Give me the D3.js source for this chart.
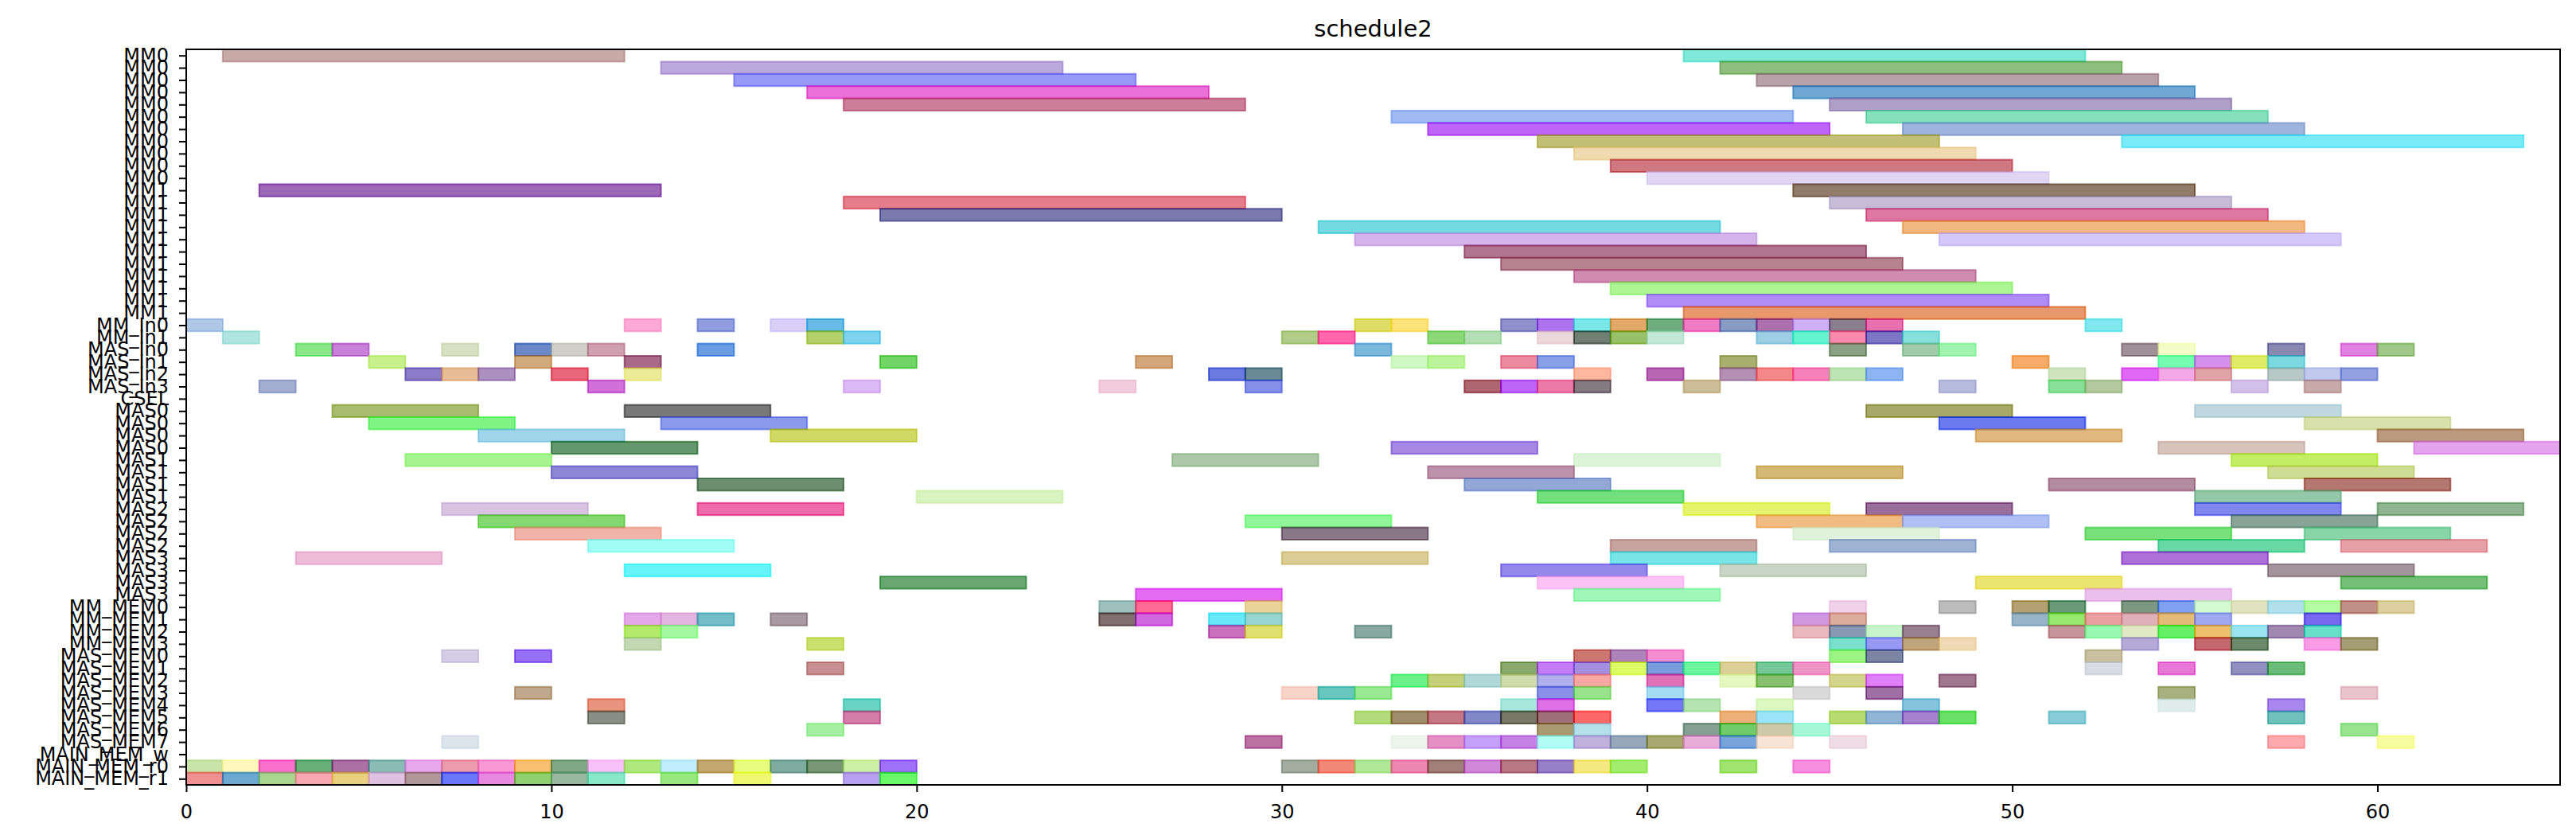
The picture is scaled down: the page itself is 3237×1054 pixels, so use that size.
<!DOCTYPE html>
<html>
<head>
<meta charset="utf-8">
<script src="https://cdn.jsdelivr.net/npm/d3@7"></script>
<style>
  html, body { margin: 0; padding: 0; background: #fff; }
  svg { display: block; font-family: "DejaVu Sans", sans-serif; }
</style>
</head>
<body>
<script>
// Row labels, top to bottom
const rowLabels = [
  "MM0", "MM0", "MM0", "MM0", "MM0", "MM0", "MM0", "MM0", "MM0", "MM0", "MM0",
  "MM1", "MM1", "MM1", "MM1", "MM1", "MM1", "MM1", "MM1", "MM1", "MM1", "MM1",
  "MM_In0", "MM_In1", "MAS_In0", "MAS_In1", "MAS_In2", "MAS_In3", "CSEL",
  "MAS0", "MAS0", "MAS0", "MAS0", "MAS1", "MAS1", "MAS1", "MAS1",
  "MAS2", "MAS2", "MAS2", "MAS2", "MAS3", "MAS3", "MAS3", "MAS3",
  "MM_MEM0", "MM_MEM1", "MM_MEM2", "MM_MEM3",
  "MAS_MEM0", "MAS_MEM1", "MAS_MEM2", "MAS_MEM3", "MAS_MEM4", "MAS_MEM5", "MAS_MEM6", "MAS_MEM7",
  "MAIN_MEM_w", "MAIN_MEM_r0", "MAIN_MEM_r1"
];

const xTicks = [0, 10, 20, 30, 40, 50, 60];

// [row, start, end, colour as seen]
const mmBars = [
  [0, 1, 12, "#c8aaa6"], [0, 41, 52, "#80e8d8"],
  [1, 13, 24, "#bca8dc"], [1, 42, 53, "#8fbf7f"],
  [2, 15, 26, "#9898f8"], [2, 43, 54, "#b8a2aa"],
  [3, 17, 28, "#ea70d8"], [3, 44, 55, "#70a8d4"],
  [4, 18, 29, "#cc7f98"], [4, 45, 56, "#b0a0c8"],
  [5, 33, 44, "#a0baf6"], [5, 46, 57, "#86e0bc"],
  [6, 34, 45, "#bf66f8"], [6, 47, 58, "#9fb4dc"],
  [7, 37, 48, "#c2c076"], [7, 53, 64, "#7aeaf8"],
  [8, 38, 49, "#f0dab0"],
  [9, 39, 50, "#d07880"],
  [10, 40, 51, "#e0d6f4"],
  [11, 2, 13, "#9d68b8"], [11, 44, 55, "#907c68"],
  [12, 18, 29, "#e57e8a"], [12, 45, 56, "#c6bcd8"],
  [13, 19, 30, "#7a7aae"], [13, 46, 57, "#de78a2"],
  [14, 31, 42, "#72dae0"], [14, 47, 58, "#f2b680"],
  [15, 32, 43, "#d4b4ea"], [15, 48, 59, "#d4c8f8"],
  [16, 35, 46, "#b0748e"],
  [17, 36, 47, "#b68290"],
  [18, 38, 49, "#d08cb0"],
  [19, 39, 50, "#acf494"],
  [20, 40, 51, "#b08cf8"],
  [21, 41, 52, "#e8986c"]
];

const inBars = [
  [22, 0, 1, "#b0c8e8"], [22, 12, 13, "#ffaad6"], [22, 14, 15, "#909ee0"], [22, 16, 17, "#d8d0f8"],
  [22, 17, 18, "#62bce4"], [22, 32, 33, "#dede66"], [22, 33, 34, "#fde27a"], [22, 36, 37, "#9090cc"],
  [22, 37, 38, "#ae72ee"], [22, 38, 39, "#7ae8e8"], [22, 39, 40, "#e2a868"], [22, 40, 41, "#6eae7e"],
  [22, 41, 42, "#f07cc4"], [22, 42, 43, "#869cc4"], [22, 43, 44, "#ac70ac"], [22, 44, 45, "#d0b0f4"],
  [22, 45, 46, "#8a7e8e"], [22, 46, 47, "#e870ae"], [22, 52, 53, "#80e8ee"],
  [23, 1, 2, "#b0e4e0"], [23, 17, 18, "#b4d06a"], [23, 18, 19, "#7ed2ee"], [23, 30, 31, "#b0cc88"],
  [23, 31, 32, "#ff68ae"], [23, 34, 35, "#8cd87a"], [23, 35, 36, "#b4deb4"], [23, 37, 38, "#ecd8da"],
  [23, 38, 39, "#707e74"], [23, 39, 40, "#98c068"], [23, 40, 41, "#c4e8d8"], [23, 43, 44, "#9ccee4"],
  [23, 44, 45, "#60f4d0"], [23, 45, 46, "#fc8aae"], [23, 46, 47, "#7c76c4"], [23, 47, 48, "#88e0dc"],
  [24, 3, 4, "#88e888"], [24, 4, 5, "#c880d8"], [24, 7, 8, "#d8e0c4"], [24, 9, 10, "#6a88c8"],
  [24, 10, 11, "#d0d0c8"], [24, 11, 12, "#d0a0b0"], [24, 14, 15, "#6a9ce4"], [24, 32, 33, "#7cb8de"],
  [24, 45, 46, "#8ca084"], [24, 47, 48, "#a0ccac"], [24, 48, 49, "#a0f4b0"], [24, 53, 54, "#a0909a"],
  [24, 54, 55, "#f4fcc8"], [24, 57, 58, "#8888b0"], [24, 59, 60, "#e080e0"], [24, 60, 61, "#a0c888"],
  [25, 5, 6, "#c8f08c"], [25, 9, 10, "#d0aa7c"], [25, 12, 13, "#a86a88"], [25, 19, 20, "#70d466"],
  [25, 26, 27, "#d4a67c"], [25, 33, 34, "#d0f8c4"], [25, 34, 35, "#bcf49c"], [25, 36, 37, "#ec8aa0"],
  [25, 37, 38, "#88a0e8"], [25, 42, 43, "#a8b070"], [25, 50, 51, "#f6ac68"], [25, 54, 55, "#74fcb0"],
  [25, 55, 56, "#d490ec"], [25, 56, 57, "#e0ec64"], [25, 57, 58, "#7cd8e0"],
  [26, 6, 7, "#8a7cc8"], [26, 7, 8, "#e8bc94"], [26, 8, 9, "#ac90c0"], [26, 10, 11, "#e8687a"],
  [26, 12, 13, "#ecec98"], [26, 28, 29, "#6a7ae0"], [26, 29, 30, "#6a8a96"], [26, 38, 39, "#ffb8a0"],
  [26, 40, 41, "#b866b4"], [26, 42, 43, "#b490b4"], [26, 43, 44, "#f48888"], [26, 44, 45, "#f880b8"],
  [26, 45, 46, "#bce4b4"], [26, 46, 47, "#8eb4f4"], [26, 51, 52, "#d0e4c0"], [26, 53, 54, "#e068f4"],
  [26, 54, 55, "#f4a8e8"], [26, 55, 56, "#e0a4a8"], [26, 57, 58, "#b8c8c4"], [26, 58, 59, "#c0c8ec"],
  [26, 59, 60, "#90a0e0"],
  [27, 2, 3, "#a4aed0"], [27, 11, 12, "#d070d8"], [27, 18, 19, "#dcb8f4"], [27, 25, 26, "#f0ccdc"],
  [27, 29, 30, "#8490e8"], [27, 35, 36, "#ae6470"], [27, 36, 37, "#bc66f8"], [27, 37, 38, "#ec7aa6"],
  [27, 38, 39, "#847a82"], [27, 41, 42, "#ccbe98"], [27, 48, 49, "#b8bcdc"], [27, 51, 52, "#88e098"],
  [27, 52, 53, "#b4c8a0"], [27, 56, 57, "#d2c0e8"], [27, 58, 59, "#c8aaaa"]
];

const masBars = [
  [29, 4, 8, "#a8bc70"], [29, 12, 16, "#787878"], [29, 46, 50, "#a8a868"], [29, 55, 59, "#c0d8e0"],
  [30, 5, 9, "#80f484"], [30, 13, 17, "#8c9aec"], [30, 48, 52, "#6a7af0"], [30, 58, 62, "#d8e0ac"],
  [31, 8, 12, "#a0d4ea"], [31, 16, 20, "#d0d864"], [31, 49, 53, "#e0b880"], [31, 60, 64, "#bc9a80"],
  [32, 10, 14, "#66986e"], [32, 33, 37, "#a688e4"], [32, 54, 58, "#d6c4bc"], [32, 61, 65, "#e4a4ee"],
  [33, 6, 10, "#a8f490"], [33, 27, 31, "#acc8a8"], [33, 38, 42, "#def4d8"], [33, 56, 60, "#c4ee64"],
  [34, 10, 14, "#8c88d6"], [34, 34, 38, "#be92aa"], [34, 43, 47, "#d4b874"], [34, 57, 61, "#cedc94"],
  [35, 14, 18, "#6e8e70"], [35, 35, 39, "#94a8d8"], [35, 51, 55, "#b48ca0"], [35, 58, 62, "#b47870"],
  [36, 20, 24, "#daf4c0"], [36, 37, 41, "#72e07c"], [36, 55, 59, "#94c8a8"],
  [37, 7, 11, "#d8c4e2"], [37, 14, 18, "#ee6aa8"], [37, 41, 45, "#e4f46c"], [37, 46, 50, "#9a6e9a"],
  [37, 55, 59, "#8088f0"], [37, 60, 64, "#8eb490"],
  [38, 8, 12, "#84d870"], [38, 29, 33, "#90f898"], [38, 43, 47, "#f0bc84"], [38, 47, 51, "#b0c0f4"],
  [38, 56, 60, "#88a498"],
  [39, 9, 13, "#f2b4a8"], [39, 30, 34, "#887888"], [39, 44, 48, "#e0f2dc"], [39, 52, 56, "#7ae07a"],
  [39, 58, 62, "#88d6a8"],
  [40, 11, 15, "#a0fcf4"], [40, 39, 43, "#c8a4a0"], [40, 45, 49, "#a0b2d4"], [40, 54, 58, "#68d8a4"],
  [40, 59, 63, "#e8a0a8"],
  [41, 3, 7, "#ecbcd8"], [41, 30, 34, "#dacc94"], [41, 39, 43, "#78e6e8"], [41, 53, 57, "#ac70d8"],
  [42, 12, 16, "#60f4f8"], [42, 36, 40, "#9488ec"], [42, 42, 46, "#c8d4c4"], [42, 57, 61, "#a4949c"],
  [43, 19, 23, "#68a870"], [43, 37, 41, "#fcc4f4"], [43, 49, 53, "#ece670"], [43, 59, 63, "#74c078"],
  [44, 26, 30, "#e46cf4"], [44, 38, 42, "#a0f8b8"], [44, 52, 56, "#ecc0ec"]
];

const memBars = [
  [45, 25, 26, "#a0c0bc"], [45, 26, 27, "#ff6a94"], [45, 29, 30, "#e8d498"], [45, 45, 46, "#f0d0e8"],
  [45, 48, 49, "#bcbcbc"], [45, 50, 51, "#b4a070"], [45, 51, 52, "#6a9a78"], [45, 53, 54, "#7c9880"],
  [45, 54, 55, "#80a0f0"], [45, 55, 56, "#d4f8d0"], [45, 56, 57, "#e0e2c0"], [45, 57, 58, "#b0e0ec"],
  [45, 58, 59, "#b4fca0"], [45, 59, 60, "#c09088"], [45, 60, 61, "#dcd0a0"],
  [46, 12, 13, "#e4a8e8"], [46, 13, 14, "#e4b4e0"], [46, 14, 15, "#74bcc8"], [46, 16, 17, "#a89aa0"],
  [46, 25, 26, "#807070"], [46, 26, 27, "#d068e0"], [46, 28, 29, "#68e8f8"], [46, 29, 30, "#98d4d0"],
  [46, 44, 45, "#d098e0"], [46, 45, 46, "#dcac9c"], [46, 50, 51, "#98b4c8"], [46, 51, 52, "#98e870"],
  [46, 52, 53, "#e8a0a0"], [46, 53, 54, "#e0b0b8"], [46, 54, 55, "#e4bc78"], [46, 55, 56, "#a0a8f0"],
  [46, 58, 59, "#7868f0"],
  [47, 12, 13, "#b4ea6c"], [47, 13, 14, "#a4f8a0"], [47, 28, 29, "#c870bc"], [47, 29, 30, "#e0e070"],
  [47, 32, 33, "#88a8a0"], [47, 44, 45, "#e8b8bc"], [47, 45, 46, "#8898b0"], [47, 46, 47, "#c8f4cc"],
  [47, 47, 48, "#988090"], [47, 51, 52, "#c49498"], [47, 52, 53, "#98f8b0"], [47, 53, 54, "#e0e8c4"],
  [47, 54, 55, "#60f068"], [47, 55, 56, "#ecc06c"], [47, 56, 57, "#98e4f0"], [47, 57, 58, "#a088b0"],
  [47, 58, 59, "#68e0c8"],
  [48, 12, 13, "#c4d8b4"], [48, 17, 18, "#cce070"], [48, 45, 46, "#78e0cc"], [48, 46, 47, "#9898f8"],
  [48, 47, 48, "#c0a47c"], [48, 48, 49, "#f0dab4"], [48, 53, 54, "#b4aad8"], [48, 55, 56, "#c46870"],
  [48, 56, 57, "#6c8a6c"], [48, 58, 59, "#f89ce8"], [48, 59, 60, "#a49c74"],
  [49, 7, 8, "#d4cce4"], [49, 9, 10, "#9870f4"], [49, 38, 39, "#cc7870"], [49, 39, 40, "#ac84b8"],
  [49, 40, 41, "#f48cd0"], [49, 45, 46, "#9cf484"], [49, 46, 47, "#7c86a4"], [49, 52, 53, "#c8c0a0"],
  [50, 17, 18, "#c89090"], [50, 36, 37, "#8aa86a"], [50, 37, 38, "#c47cf4"], [50, 38, 39, "#a48ee0"],
  [50, 39, 40, "#dcfc60"], [50, 40, 41, "#789cdc"], [50, 41, 42, "#6cf4a0"], [50, 42, 43, "#dcd098"],
  [50, 43, 44, "#74c898"], [50, 44, 45, "#f094c8"], [50, 52, 53, "#d8dce4"], [50, 54, 55, "#e878d8"],
  [50, 56, 57, "#9090c0"], [50, 57, 58, "#6cbc78"],
  [51, 33, 34, "#6cf08c"], [51, 34, 35, "#c4d07c"], [51, 35, 36, "#b0d8d8"], [51, 36, 37, "#d0dcac"],
  [51, 37, 38, "#b0b0ec"], [51, 38, 39, "#f8a8a4"], [51, 40, 41, "#e070b8"], [51, 42, 43, "#e4f8c0"],
  [51, 43, 44, "#88c070"], [51, 45, 46, "#d4d48c"], [51, 46, 47, "#e080f8"], [51, 48, 49, "#a07890"],
  [52, 9, 10, "#c0a88c"], [52, 30, 31, "#f8d4c8"], [52, 31, 32, "#68c8c0"], [52, 32, 33, "#98e894"],
  [52, 37, 38, "#8890e8"], [52, 38, 39, "#98e28c"], [52, 40, 41, "#a4dcf4"], [52, 44, 45, "#dadada"],
  [52, 46, 47, "#a070a4"], [52, 54, 55, "#a8b080"], [52, 59, 60, "#e8c4cc"],
  [53, 11, 12, "#e89480"], [53, 18, 19, "#6ad4c4"], [53, 36, 37, "#a8e8dc"], [53, 37, 38, "#e070e8"],
  [53, 40, 41, "#7478f8"], [53, 41, 42, "#b4e4b0"], [53, 43, 44, "#dcf8c0"], [53, 47, 48, "#84c4dc"],
  [53, 54, 55, "#e0ecec"], [53, 57, 58, "#a888ec"],
  [54, 11, 12, "#8a8e84"], [54, 18, 19, "#d47ca8"], [54, 32, 33, "#b4dc7c"], [54, 33, 34, "#a08c6c"],
  [54, 34, 35, "#c47884"], [54, 35, 36, "#8088c8"], [54, 36, 37, "#7a7866"], [54, 37, 38, "#a07078"],
  [54, 38, 39, "#fc6868"], [54, 42, 43, "#ecb078"], [54, 43, 44, "#9ce4f8"], [54, 45, 46, "#b8dc70"],
  [54, 46, 47, "#90b4d4"], [54, 47, 48, "#a880d0"], [54, 48, 49, "#6ae060"], [54, 51, 52, "#88ccd8"],
  [54, 57, 58, "#70c0bc"],
  [55, 17, 18, "#a4f0a0"], [55, 37, 38, "#aa9a74"], [55, 38, 39, "#b4e0ec"], [55, 41, 42, "#84a094"],
  [55, 42, 43, "#70cc68"], [55, 43, 44, "#ccc8a8"], [55, 44, 45, "#a4f8d8"], [55, 59, 60, "#98e490"],
  [56, 7, 8, "#dce4ec"], [56, 29, 30, "#bc70a4"], [56, 33, 34, "#ecf4ec"], [56, 34, 35, "#e490c4"],
  [56, 35, 36, "#c4a0f8"], [56, 36, 37, "#c680e4"], [56, 37, 38, "#b0fcf4"], [56, 38, 39, "#c0b0dc"],
  [56, 39, 40, "#98a8bc"], [56, 40, 41, "#a8a870"], [56, 41, 42, "#e8acd8"], [56, 42, 43, "#78a4dc"],
  [56, 43, 44, "#f8e4d4"], [56, 45, 46, "#f0dce4"], [56, 57, 58, "#fca8ac"], [56, 60, 61, "#f8fca0"]
];

const mainMemBars = [
  [58, 0, 1, "#c8e4a8"], [58, 1, 2, "#fff8bc"], [58, 2, 3, "#f870cc"], [58, 3, 4, "#64b078"],
  [58, 4, 5, "#ac70a4"], [58, 5, 6, "#88bcb4"], [58, 6, 7, "#e8a8ec"], [58, 7, 8, "#ea9cac"],
  [58, 8, 9, "#f898d4"], [58, 9, 10, "#f8c070"], [58, 10, 11, "#80a884"], [58, 11, 12, "#f8c0f8"],
  [58, 12, 13, "#b0e880"], [58, 13, 14, "#c0ecfc"], [58, 14, 15, "#c4a870"], [58, 15, 16, "#e8fc80"],
  [58, 16, 17, "#80aca0"], [58, 17, 18, "#789874"], [58, 18, 19, "#ccf0a4"], [58, 19, 20, "#a070f8"],
  [58, 30, 31, "#a4aca0"], [58, 31, 32, "#f48878"], [58, 32, 33, "#b0e898"], [58, 33, 34, "#ec88b0"],
  [58, 34, 35, "#a08078"], [58, 35, 36, "#d088d8"], [58, 36, 37, "#b87884"], [58, 37, 38, "#9880c8"],
  [58, 38, 39, "#f4e880"], [58, 39, 40, "#a4ec70"], [58, 42, 43, "#a0e470"], [58, 44, 45, "#f890e0"],
  [59, 0, 1, "#f09090"], [59, 1, 2, "#6ca8d0"], [59, 2, 3, "#a8d890"], [59, 3, 4, "#f8a8b0"],
  [59, 4, 5, "#e8d080"], [59, 5, 6, "#e0c0e0"], [59, 6, 7, "#b09898"], [59, 7, 8, "#6878f8"],
  [59, 8, 9, "#e888e0"], [59, 9, 10, "#90d070"], [59, 10, 11, "#98b8a0"], [59, 11, 12, "#88e8c8"],
  [59, 13, 14, "#98e880"], [59, 15, 16, "#f0f870"], [59, 18, 19, "#b8a0f0"], [59, 19, 20, "#68f868"]
];

const W = 3237, H = 1054;
const margin = {top: 62, right: 20, bottom: 68, left: 234};
const alpha = 0.6;

const svg = d3.select("body").append("svg")
  .attr("width", W)
  .attr("height", H);

const x = d3.scaleLinear().domain([0, 65]).range([margin.left, W - margin.right]);
const y = d3.scaleLinear().domain([-0.5, rowLabels.length - 0.5]).range([margin.top, H - margin.bottom]);

// colours above are as they look over white; undo the transparency
function baseColour(c) {
  const o = d3.rgb(c);
  const f = v => Math.max(0, Math.min(255, (v - 255 * (1 - alpha)) / alpha));
  return d3.rgb(f(o.r), f(o.g), f(o.b)).formatHex();
}

svg.append("clipPath").attr("id", "plot")
  .append("rect")
  .attr("x", margin.left).attr("y", margin.top)
  .attr("width", W - margin.left - margin.right)
  .attr("height", H - margin.top - margin.bottom);

const allBars = [].concat(mmBars, inBars, masBars, memBars, mainMemBars);

svg.append("g")
  .attr("clip-path", "url(#plot)")
  .selectAll("rect")
  .data(allBars)
  .join("rect")
  .attr("x", d => x(d[1]))
  .attr("y", d => y(d[0] - 0.5))
  .attr("width", d => x(d[2]) - x(d[1]))
  .attr("height", d => y(d[0] + 0.5) - y(d[0] - 0.5))
  .attr("fill", d => baseColour(d[3]))
  .attr("fill-opacity", alpha)
  .attr("stroke", d => baseColour(d[3]))
  .attr("stroke-opacity", alpha)
  .attr("stroke-width", 2);

// Axes
const xAxis = svg.append("g")
  .attr("transform", `translate(0,${H - margin.bottom})`)
  .call(d3.axisBottom(x).tickValues(xTicks).tickSize(9).tickPadding(16).tickFormat(d3.format("d")));

const yAxis = svg.append("g")
  .attr("transform", `translate(${margin.left},0)`)
  .call(d3.axisLeft(y).tickValues(d3.range(rowLabels.length)).tickSize(9).tickPadding(13)
    .tickFormat(i => rowLabels[i]));

[xAxis, yAxis].forEach(a => {
  a.select(".domain").remove();
  a.selectAll(".tick line").attr("stroke", "#000").attr("stroke-width", 2);
  a.selectAll(".tick text")
    .attr("fill", "#000")
    .style("font-family", "'DejaVu Sans', sans-serif")
    .style("font-size", "24px");
});

// Frame
svg.append("rect")
  .attr("x", margin.left).attr("y", margin.top)
  .attr("width", W - margin.left - margin.right)
  .attr("height", H - margin.top - margin.bottom)
  .attr("fill", "none")
  .attr("stroke", "#000")
  .attr("stroke-width", 2);

// Title
svg.append("text")
  .attr("x", (margin.left + W - margin.right) / 2)
  .attr("y", 46)
  .attr("text-anchor", "middle")
  .style("font-size", "29px")
  .text("schedule2");
</script>
</body>
</html>
